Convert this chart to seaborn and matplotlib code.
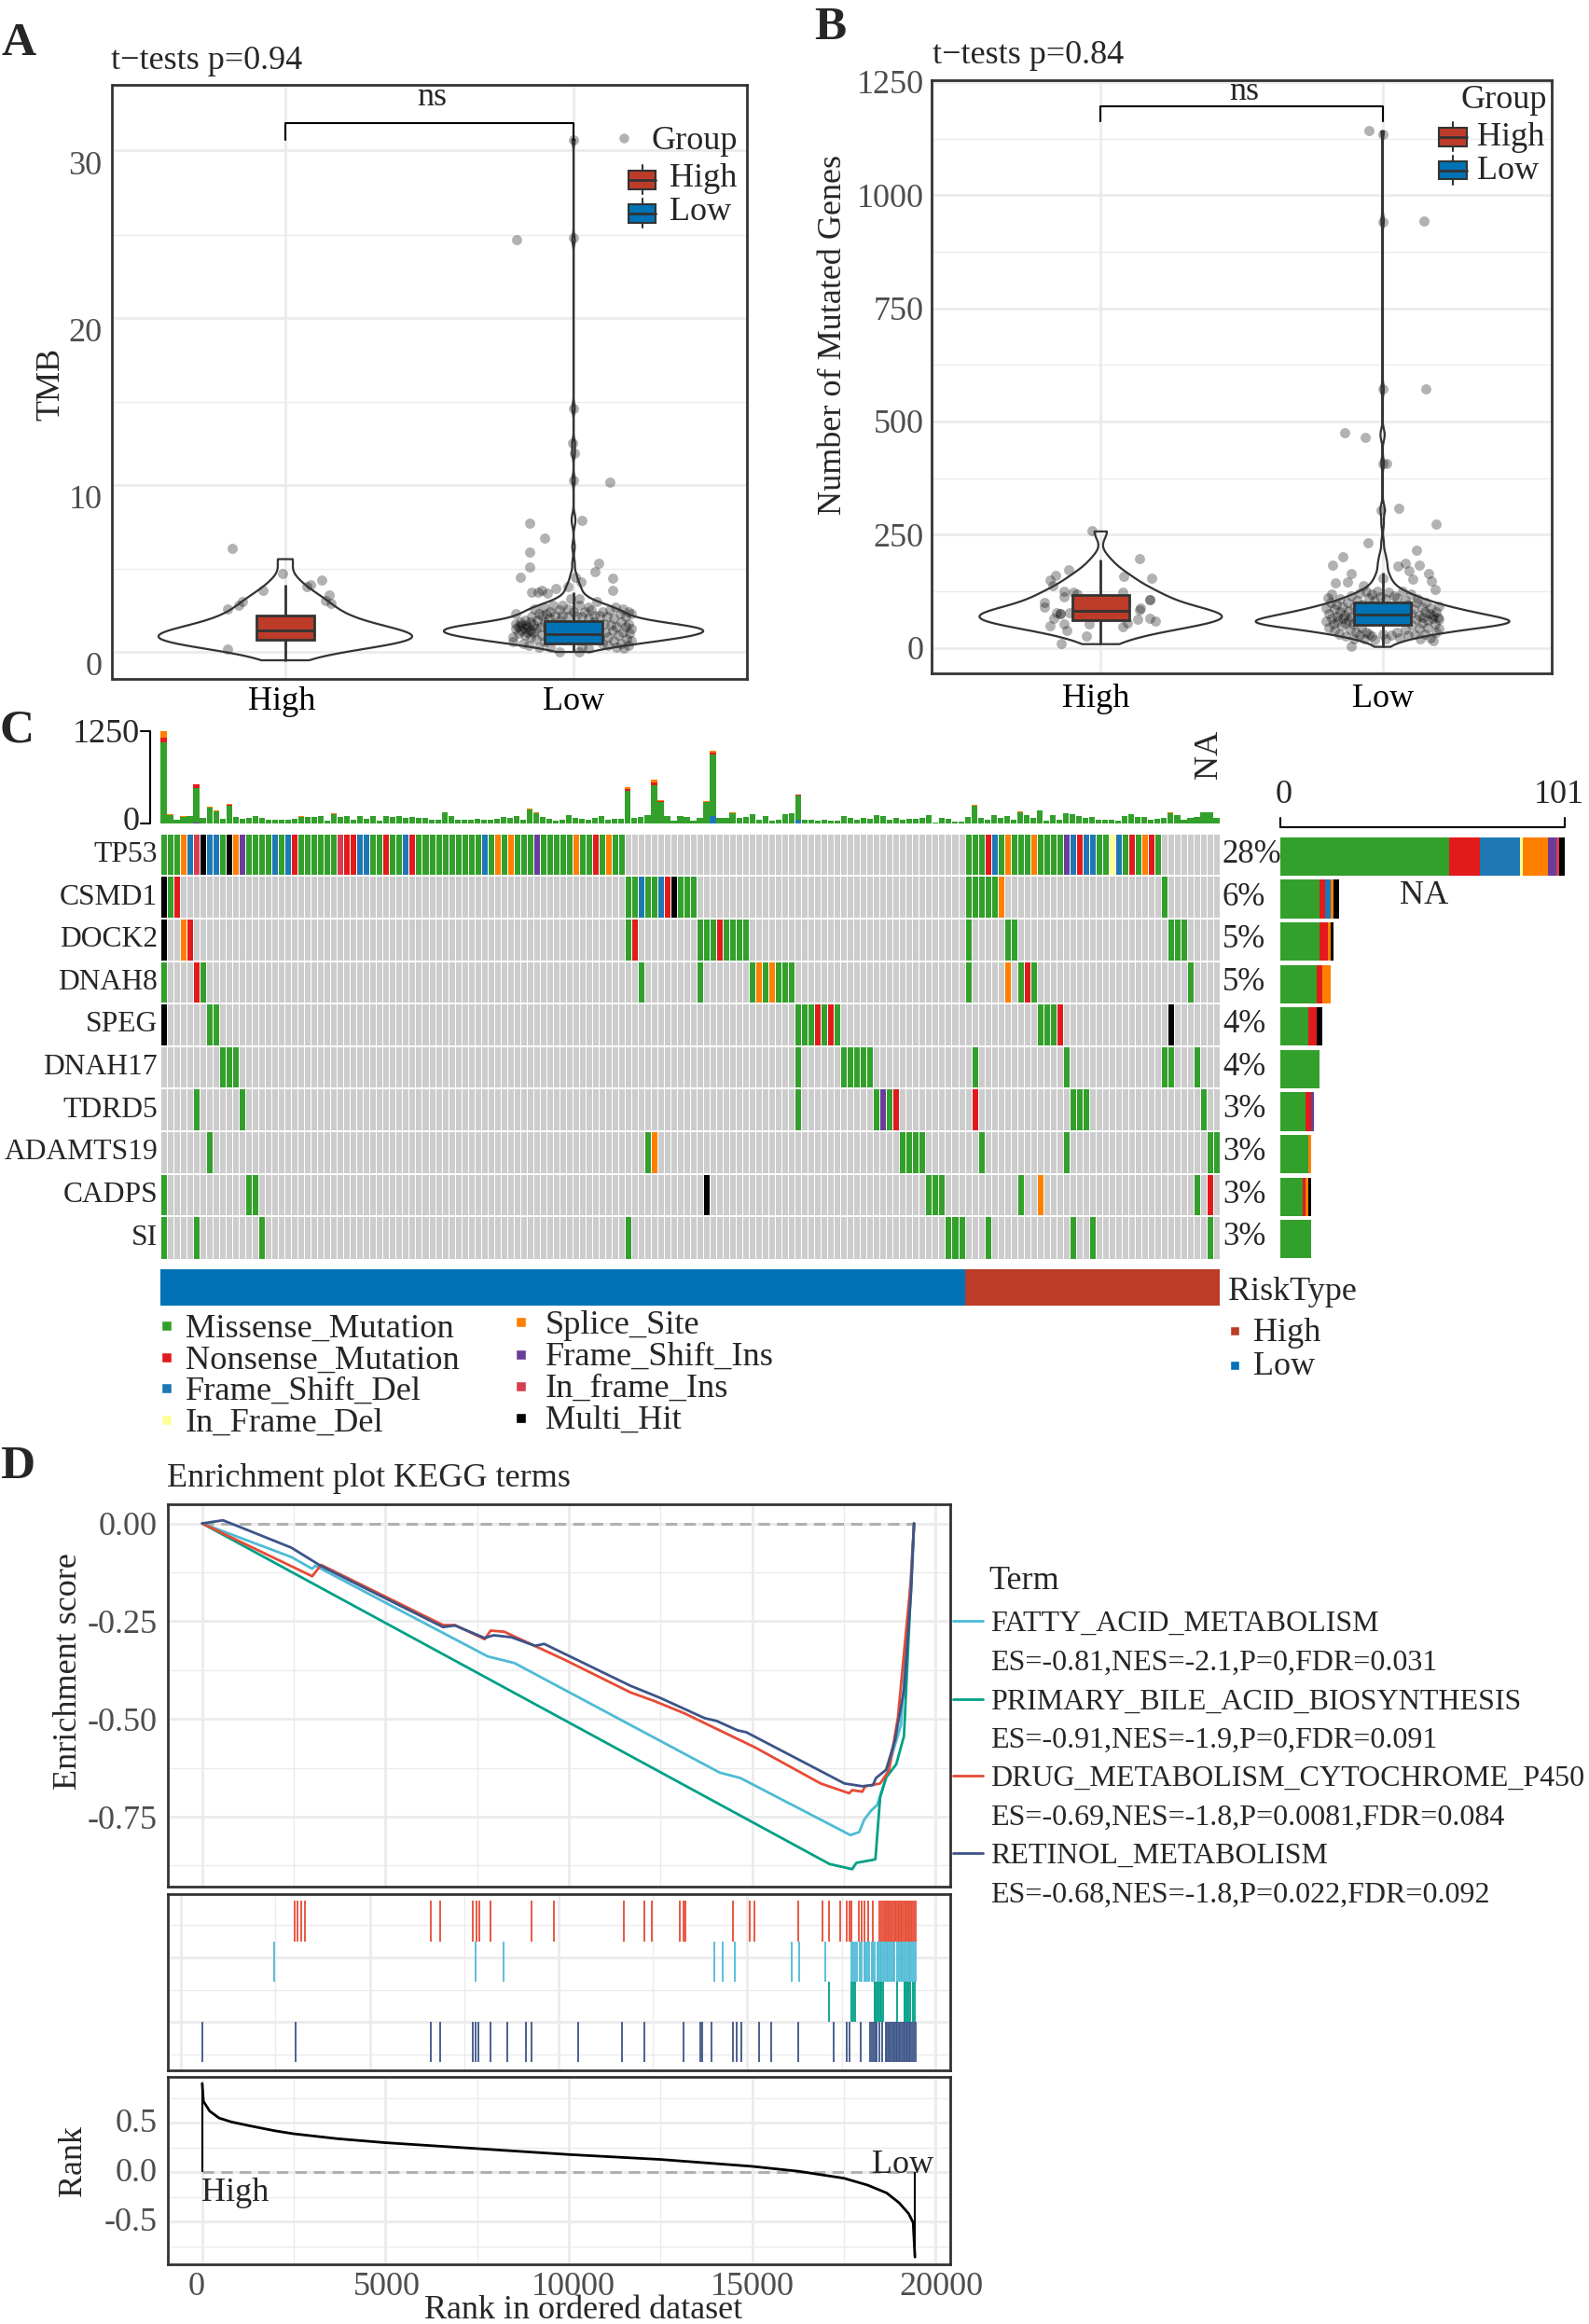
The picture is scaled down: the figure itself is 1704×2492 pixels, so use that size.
import numpy as np
import pandas as pd
import matplotlib
matplotlib.use("Agg")
import matplotlib.pyplot as plt
from matplotlib.colors import ListedColormap
from matplotlib.lines import Line2D
from matplotlib.patches import Rectangle
from matplotlib.transforms import ScaledTranslation
import seaborn as sns

W, H = 1704, 2492
HIGH_COL = "#BC3C29"
LOW_COL = "#0072B5"
GRID = "#EBEBEB"
DARK = "#333333"
TICK_GREY = "#4D4D4D"
FS = 26

# ---- panel A / B ----
a_box_high = [0.16, 1.44, 2.0, 2.87, 4.74]
a_box_low = [0.7, 1.19, 1.79, 2.52, 4.28]
b_box_high = [8, 61, 81, 116, 195]
b_box_low = [1, 50, 73, 101, 167]

a_high_vals = [0.2, 0.8, 1.2, 1.6, 2.0, 2.4, 2.8, 3.2, 3.6, 4.0, 4.5, 5.0, 6.26]
a_high_counts = [1, 2, 6, 8, 5, 3, 3, 2, 2, 2, 1, 1, 1]
a_low_vals = [0.7, 1.0, 1.3, 1.6, 1.9, 2.2, 2.5, 2.8, 3.1, 3.4, 3.7, 4.0, 4.4, 4.8, 5.3, 6.0, 7.0,
              8.4, 8.8, 11.0, 12.6, 13.2, 15.3, 25.4, 31.4]
a_low_counts = [4, 14, 28, 42, 50, 48, 28, 20, 18, 15, 8, 5, 4, 3, 2, 1, 1,
                1, 1, 1, 1, 1, 1, 1, 1]
b_high_vals = [8, 25, 40, 55, 70, 85, 100, 115, 130, 145, 160, 175, 195, 257]
b_high_counts = [1, 2, 4, 7, 9, 6, 4, 4, 3, 2, 2, 1, 1, 1]
b_low_vals = [2, 20, 35, 50, 60, 75, 90, 105, 120, 135, 150, 165, 185, 205, 232, 274, 300, 310,
              408, 465, 476, 571, 943, 1141]
b_low_counts = [3, 12, 30, 45, 55, 45, 30, 20, 12, 6, 4, 3, 3, 2, 1, 1, 1, 1,
                1, 1, 1, 1, 1, 1]

a_high_pts = [(-.184, 6.9), (.126, 5.0), (.088, 4.7), (.074, 4.6), (.153, 4.1), (-.079, 4.4), (-.149, 3.7),
              (-.163, 3.5), (-.2, 3.3), (.158, 3.6), (.14, 3.8), (-.2, .85), (-.01, 5.4)]
a_low_pts = [(0, 31.4), (0, 25.5), (-.196, 25.4), (0, 15.3), (-.005, 13.2), (.004, 12.6), (0, 11.0), (.125, 10.9),
             (-.151, 8.4), (.028, 8.6), (-.102, 7.5), (-.152, 6.7), (-.152, 5.8), (.088, 6.0), (-.186, 5.2), (.074, 5.5),
             (.135, 5.1), (.005, 5.2), (-.018, 4.6), (.026, 4.9), (.135, 4.4), (-.061, 4.5), (-.146, 4.3), (-.123, 4.3),
             (-.11, 4.4),
             (-.21, 1.6), (-.2, 2.1), (-.2, 2.4), (-.21, 1.3), (-.2, 3.0), (-.19, 2.2), (-.19, 1.8), (-.185, 2.5),
             (-.18, 2.0), (-.18, 2.3), (-.175, 1.2), (-.17, 2.1), (-.17, 1.7), (-.17, 2.6), (-.165, 2.35), (-.16, 1.9),
             (-.16, 2.2), (-.155, 1.1), (-.15, 2.5), (-.15, 2.0), (-.15, 1.6), (-.145, 2.8), (-.14, 2.3), (-.14, 1.9),
             (-.135, 3.3), (-.13, 2.1), (-.13, 1.5), (-.125, 2.6), (-.12, 1.0), (-.12, 3.0), (-.115, 2.2), (-.11, 1.7),
             (-.11, 2.9), (-.105, 3.4), (-.1, 2.5), (-.1, 1.3), (-.095, 3.0), (-.09, 2.1), (-.09, 4.2), (-.085, 2.7),
             (-.08, 3.1), (-.08, 1.0), (-.075, 2.4), (-.07, 3.5), (-.07, 1.7), (-.065, 2.9), (-.05, .7), (-.05, 3.2),
             (-.05, 2.6), (-.04, 2.9), (-.04, 3.5), (-.03, 2.1), (-.02, 3.3), (-.02, 2.8), (-.01, 3.9), (0, 3.1),
             (.01, 2.9), (.02, .72), (.02, 3.5), (.02, 3.9), (.03, 2.85), (.03, 1.0), (.04, 3.1), (.05, 3.4), (.05, 2.7),
             (.05, .9), (.06, 3.2), (.07, 2.5), (.07, 2.9), (.08, 2.1), (.08, 3.7), (.09, 1.5), (.09, 2.9), (.1, 3.1),
             (.1, 1.2), (.105, 2.4), (.11, 1.9), (.115, 2.8), (.12, 1.1), (.12, 1.6), (.125, 3.2), (.13, 2.3), (.135, 2.0),
             (.14, 1.4), (.14, 2.7), (.145, 3.4), (.15, 1.0), (.15, 2.2), (.155, 1.7), (.16, 3.0), (.165, 2.5), (.165, 1.2),
             (.17, 1.9), (.17, 3.3), (.175, .9), (.18, 2.2), (.18, 2.8), (.185, 1.5), (.19, 1.1), (.19, 2.4), (.19, 3.1),
             (.195, 1.8), (.2, 2.1), (.2, 1.4), (.2, 3.0)]
b_high_pts = [(-.03, 258), (.137, 196), (-.115, 172), (.18, 153), (.08, 158), (-.16, 159), (-.18, 149), (-.17, 138),
              (.077, 123), (-.13, 125), (-.097, 123), (-.085, 118), (-.13, 113), (-.2, 101), (-.2, 90), (.175, 106),
              (.175, 106), (.14, 88), (.137, 83), (-.157, 78), (-.142, 75), (-.166, 65), (-.142, 75), (-.11, 78),
              (-.04, 53), (.13, 63), (.173, 65), (.193, 59), (.095, 55), (.077, 46), (-.13, 53), (-.18, 48), (-.12, 38),
              (-.052, 26), (-.139, 10)]
b_low_pts = [(-.047, 1142), (0, 1135), (.148, 943), (0, 941), (.155, 571), (0, 571), (-.133, 476), (-.061, 465), (.016, 408),
             (0, 408), (.058, 308), (-.004, 305), (.19, 274), (-.052, 233), (-.142, 201), (.119, 215), (-.177, 183), (.081, 187),
             (.054, 181), (.13, 183), (.094, 171), (.162, 165), (.173, 148), (-.112, 163), (-.166, 143), (-.126, 145),
             (-.067, 138), (0, 153), (.108, 151), (.186, 128), (-.11, 3),
             (-.2, 88), (-.2, 58), (-.195, 110), (-.19, 45), (-.19, 75), (-.185, 100), (-.18, 65), (-.18, 118), (-.175, 52),
             (-.17, 85), (-.17, 38), (-.165, 95), (-.16, 70), (-.16, 58), (-.155, 30), (-.15, 80), (-.15, 108), (-.145, 48),
             (-.14, 65), (-.14, 90), (-.135, 72), (-.13, 55), (-.13, 25), (-.125, 100), (-.12, 60), (-.12, 82), (-.115, 40),
             (-.11, 70), (-.11, 115), (-.105, 52), (-.1, 90), (-.1, 20), (-.095, 35), (-.09, 105), (-.085, 62), (-.08, 120),
             (-.08, 28), (-.075, 45), (-.07, 95), (-.065, 20), (-.06, 125), (-.06, 35), (-.05, 30), (-.05, 110), (-.04, 118),
             (-.04, 25), (-.03, 105), (-.03, 18), (-.02, 125), (-.01, 112), (0, 30), (.01, 108), (.01, 20), (.02, 122),
             (.03, 28), (.04, 115), (.05, 35), (.05, 110), (.06, 22), (.07, 125), (.08, 40), (.08, 104), (.09, 95), (.09, 28),
             (.1, 75), (.1, 118), (.105, 50), (.11, 85), (.115, 30), (.12, 62), (.12, 100), (.125, 108), (.13, 72), (.13, 42),
             (.135, 20), (.14, 90), (.14, 55), (.145, 68), (.15, 30), (.15, 80), (.155, 100), (.16, 60), (.16, 45), (.165, 75),
             (.17, 22), (.17, 88), (.175, 65), (.18, 72), (.18, 15), (.185, 52), (.19, 80), (.19, 35), (.195, 68), (.2, 42),
             (.2, 62), (.2, 92)]

# ---- panel C ----
genes = ["TP53", "CSMD1", "DOCK2", "DNAH8", "SPEG", "DNAH17", "TDRD5", "ADAMTS19", "CADPS", "SI"]
gene_pct = ["28%", "6%", "5%", "5%", "4%", "4%", "3%", "3%", "3%", "3%"]
mut_names = ["Missense_Mutation", "Nonsense_Mutation", "Frame_Shift_Del", "In_Frame_Del",
             "Splice_Site", "Frame_Shift_Ins", "In_frame_Ins", "Multi_Hit"]
mut_letters = "MNDYSIFH"
mut_colors = ["#33A02C", "#E31A1C", "#1F78B4", "#FFFF99", "#FF7F00", "#6A3D9A", "#D53E4F", "#000000"]
N_SAMPLES = 162
N_LOW = 123
gene_mutations = [
    [(0, "MMMSDFHDDMHSIMMMMDMDNMMMMMMFNNDDMMNMMDNMMMMMMMMMMDMSMSMMMIMMMMMSMMNMSMM"),
     (123, "MMMNDMSMMMSMMMMIDNDDMMYDMNMSNM")],
    [(0, "HMN"), (71, "MMDMMDNHMMM"), (123, "MMMMMS"), (153, "M")],
    [(0, "H"), (3, "SN"), (71, "MN"), (82, "MMMNMMMM"), (123, "M"), (129, "MM"), (154, "MMM")],
    [(0, "M"), (5, "NM"), (73, "M"), (82, "M"), (90, "MSMSMMM"), (123, "M"), (129, "S"), (131, "MNM"), (157, "M")],
    [(0, "H"), (7, "MM"), (97, "MMMNMNM"), (134, "MMMN"), (154, "H")],
    [(9, "MMM"), (97, "M"), (104, "MMMMM"), (124, "M"), (138, "M"), (153, "MM"), (158, "M")],
    [(5, "M"), (12, "M"), (97, "M"), (109, "MIMN"), (124, "N"), (139, "MMM"), (159, "M")],
    [(7, "M"), (74, "MS"), (113, "MMMM"), (125, "M"), (138, "M"), (160, "MM")],
    [(0, "M"), (13, "MM"), (83, "H"), (117, "MMM"), (131, "M"), (134, "S"), (158, "M"), (160, "N")],
    [(0, "M"), (5, "M"), (15, "M"), (71, "M"), (120, "MMM"), (126, "M"), (139, "M"), (142, "M"), (160, "M")],
]
top_total = [1250, 125, 50, 100, 110, 530, 80, 235, 180, 70, 270, 95, 70, 85, 110, 85, 60, 60, 60, 60,
             70, 105, 95, 95, 105, 40, 145, 95, 105, 50, 100, 70, 110, 40, 100, 95, 110, 85, 95, 85,
             85, 50, 60, 160, 110, 55, 55, 55, 70, 60, 55, 70, 90, 80, 100, 60, 205, 150, 90, 70,
             45, 55, 120, 85, 65, 60, 85, 110, 55, 70, 65, 495, 80, 95, 115, 590, 315, 100, 40, 110,
             95, 40, 80, 310, 980, 80, 85, 155, 75, 95, 130, 60, 100, 45, 60, 135, 140, 400, 50, 60,
             40, 60, 40, 40, 110, 80, 50, 75, 70, 120, 110, 60, 85, 60, 65, 65, 85, 115, 20, 75,
             65, 30, 25, 90, 260, 75, 60, 120, 80, 105, 50, 170, 115, 85, 185, 45, 120, 60, 145, 125,
             100, 80, 95, 50, 60, 55, 45, 110, 130, 90, 95, 50, 65, 80, 155, 115, 55, 80, 90, 150,
             150, 85]
top_red = {0: 60, 5: 50, 7: 5, 10: 15, 26: 5, 71: 15, 75: 35, 76: 15, 83: 12, 84: 30, 97: 12, 124: 10}
top_orange = {0: 85, 1: 8, 3: 6, 4: 6, 7: 10, 8: 8, 10: 8, 14: 6, 21: 6, 26: 8, 32: 6, 43: 5, 56: 8, 57: 6, 62: 6,
              71: 30, 75: 30, 76: 12, 83: 10, 84: 15, 87: 8, 97: 8, 104: 6, 109: 6, 124: 12, 131: 10, 134: 6, 154: 10}
top_blue = {5: 5, 84: 100, 97: 60}
top_purple = {5: 15, 84: 10}
side_counts = {
    "Missense_Mutation": [60, 14, 14, 13, 10, 14, 9, 10, 8, 11],
    "Nonsense_Mutation": [11, 2, 3, 2, 3, 0, 2, 0, 1, 0],
    "Frame_Shift_Del": [14, 2, 0, 0, 0, 0, 0, 0, 0, 0],
    "In_Frame_Del": [1, 0, 0, 0, 0, 0, 0, 0, 0, 0],
    "Splice_Site": [9, 1, 1, 3, 0, 0, 0, 1, 1, 0],
    "Frame_Shift_Ins": [3, 0, 0, 0, 0, 0, 1, 0, 0, 0],
    "In_frame_Ins": [1, 0, 0, 0, 0, 0, 0, 0, 0, 0],
    "Multi_Hit": [2, 2, 1, 0, 2, 0, 0, 0, 1, 0],
}

# ---- panel D ----
terms = ["FATTY_ACID_METABOLISM", "PRIMARY_BILE_ACID_BIOSYNTHESIS", "DRUG_METABOLISM_CYTOCHROME_P450", "RETINOL_METABOLISM"]
term_stats = ["ES=-0.81,NES=-2.1,P=0,FDR=0.031", "ES=-0.91,NES=-1.9,P=0,FDR=0.091",
              "ES=-0.69,NES=-1.8,P=0.0081,FDR=0.084", "ES=-0.68,NES=-1.8,P=0.022,FDR=0.092"]
term_colors = ["#4DBBD5", "#00A087", "#E64B35", "#3C5488"]
fatty_rank = [0, 2433, 3001, 3082, 7786, 8516, 14111, 14679, 17680, 17923, 18053, 18248, 18410, 18653, 18815, 19059, 19302, 19415]
fatty_es = [0, -.086, -.116, -.108, -.340, -.357, -.637, -.651, -.797, -.789, -.758, -.734, -.720, -.650, -.592, -.515, -.174, 0]
bile_rank = [0, 17112, 17728, 17842, 18361, 18491, 18653, 18929, 19140, 19302, 19415]
bile_es = [0, -.871, -.884, -.868, -.859, -.700, -.650, -.616, -.544, -.223, 0]
drug_rank = [0, 3001, 3244, 6569, 6894, 7705, 7867, 8240, 9894, 11678, 12327, 13138, 15085, 16869, 17647, 17728, 18004, 18085,
             18491, 18734, 18977, 19221, 19334, 19415]
drug_es = [0, -.135, -.106, -.260, -.260, -.296, -.274, -.277, -.349, -.432, -.454, -.485, -.573, -.665, -.690, -.682, -.686,
           -.672, -.665, -.631, -.495, -.252, -.145, 0]
retinol_rank = [0, 568, 973, 2433, 3244, 4217, 6569, 6894, 7705, 7948, 8434, 9083, 9327, 11678, 12489, 13706, 14030, 14598, 14841,
                17518, 18004, 18296, 18377, 18653, 18896, 19140, 19334, 19415]
retinol_es = [0, .008, -.007, -.062, -.109, -.155, -.265, -.261, -.293, -.286, -.291, -.313, -.308, -.415, -.446, -.498, -.505,
              -.529, -.534, -.665, -.672, -.669, -.651, -.630, -.554, -.427, -.174, 0]
drug_hits = [2519, 2604, 2689, 2808, 6229, 6485, 7387, 7489, 7557, 7863, 8987, 9600, 11506, 12067, 12254, 13020, 13122, 13173,
             14467, 14944, 15063, 16254, 16918, 17105, 17394, 17581, 17650, 17718, 17922, 17990, 18058, 18160, 18279, 18466,
             18517, 18568, 18610, 18650, 18690, 18730, 18770, 18810, 18850, 18890, 18930, 18970, 19010, 19050, 19090, 19130,
             19170, 19210, 19250, 19290, 19330, 19370, 19410, 19450]
fatty_hits = [1957, 7455, 8221, 13973, 14195, 14518, 16067, 16271, 17003, 17701, 17752, 17803, 17870, 17940, 17990, 18060, 18100,
              18150, 18200, 18260, 18300, 18350, 18410, 18450, 18490, 18530, 18570, 18620, 18660, 18700, 18760, 18800, 18840,
              18880, 18950, 19010, 19050, 19090, 19140, 19180, 19240, 19280, 19320, 19360, 19400, 19450]
bile_hits = [17088, 17701, 17769, 17820, 18331, 18370, 18410, 18450, 18490, 18530, 18568, 18943, 19148, 19190, 19230, 19270,
             19318, 19386, 19437]
retinol_hits = [0, 2536, 6229, 6485, 7387, 7455, 7523, 7863, 8323, 8834, 8987, 10246, 11437, 12067, 13139, 13582, 13633, 13888,
                14467, 14569, 14706, 15199, 15523, 16254, 17224, 17581, 17666, 17956, 18211, 18260, 18310, 18360, 18400, 18460,
                18534, 18636, 18680, 18720, 18760, 18800, 18840, 18880, 18920, 18960, 19000, 19040, 19080, 19120, 19160, 19200,
                19240, 19280, 19320, 19360, 19400, 19454]
rank_x = [0, 34, 204, 460, 800, 1310, 1990, 2500, 3700, 5000, 7500, 10000, 12500, 15000, 16270, 17500, 18150, 18670, 19010, 19270, 19390, 19440]
rank_y = [.90, .72, .62, .55, .51, .47, .42, .39, .34, .30, .24, .18, .13, .06, .01, -.06, -.13, -.21, -.31, -.42, -.51, -.86]


def add_ax(left, top, right, bottom):
    return fig.add_axes([left / W, 1 - bottom / H, (right - left) / W, (bottom - top) / H])


def px_text(x, y, s, **kw):
    kw.setdefault("fontsize", FS)
    kw.setdefault("va", "center")
    # text boxes sit a little off the visual centre
    if kw.get("rotation"):
        x += 4
    else:
        y += 3
    return fig.text(x / W, 1 - y / H, s, **kw)


def px_line(xs, ys, **kw):
    kw.setdefault("color", "black")
    kw.setdefault("lw", 1.5)
    fig.add_artist(Line2D([x / W for x in xs], [1 - y / H for y in ys], transform=fig.transFigure, **kw))


def px_rect(x0, y0, x1, y1, color, **kw):
    fig.add_artist(Rectangle((x0 / W, 1 - y1 / H), (x1 - x0) / W, (y1 - y0) / H, transform=fig.transFigure,
                             facecolor=color, **kw))


def nudge(label, dx, dy):
    # shift a tick label by pixels, the reference has them slightly off their ticks
    label.set_transform(label.get_transform() + ScaledTranslation(dx / 100, dy / 100, fig.dpi_scale_trans))


def bw_frame(ax, h_major=(), h_minor=(), v_major=(), v_minor=()):
    for v in h_minor:
        ax.axhline(v, color=GRID, lw=1.0, zorder=0)
    for v in h_major:
        ax.axhline(v, color=GRID, lw=2.0, zorder=0)
    for v in v_minor:
        ax.axvline(v, color=GRID, lw=1.0, zorder=0)
    for v in v_major:
        ax.axvline(v, color=GRID, lw=2.0, zorder=0)
    for sp in ax.spines.values():
        sp.set_visible(True)
        sp.set_color(DARK)
        sp.set_linewidth(2.0)
    ax.tick_params(axis="both", colors=DARK, width=1.5, length=5, labelsize=FS, pad=3)
    ax.set_xlabel("")
    ax.set_ylabel("")


def violin_panel(ax, vals, counts, box, pts, pos, col, bw, width):
    sample = np.repeat(vals, counts)
    sns.violinplot(x=np.full(len(sample), pos), y=sample, native_scale=True, fill=False, color=DARK, saturation=1,
                   cut=0, inner=None, density_norm="width", width=width, bw_method=bw, gridsize=900, linewidth=1.6,
                   ax=ax, zorder=2)
    px, py = zip(*pts)
    sns.scatterplot(x=np.array(px) + pos, y=py, color="black", alpha=0.3, s=62, linewidth=0, ax=ax, zorder=1.5, legend=False)
    sns.boxplot(x=np.full(len(box), pos), y=box, native_scale=True, color=col, saturation=1, width=0.2, showfliers=False,
                showcaps=False, linecolor=DARK, linewidth=2.0, ax=ax, zorder=3)


def box_key(x0, x1, y0, y1, w0, w1, col):
    xc = (x0 + x1) / 2
    px_line([xc, xc], [w0, w1], color=DARK, lw=1.5)
    px_rect(x0, y0, x1, y1, col, edgecolor=DARK, linewidth=1.5, zorder=3)
    px_line([x0, x1], [(y0 + y1) / 2] * 2, color=DARK, lw=2, zorder=4)


sns.set_theme(style="white")
plt.rcParams["font.family"] = ["Liberation Serif", "DejaVu Serif"]
fig = plt.figure(figsize=(W / 100, H / 100), dpi=100, facecolor="white")

# panel A
ax = add_ax(120.5, 90.6, 800.5, 728)
bw_frame(ax, [0.7, 10.7, 20.7, 30.75], [5.7, 15.7, 25.7], [0, 1])
violin_panel(ax, a_high_vals, a_high_counts, a_box_high, a_high_pts, 0, HIGH_COL, 0.42, 0.88)
violin_panel(ax, a_low_vals, a_low_counts, a_box_low, a_low_pts, 1, LOW_COL, 0.1, 0.9)
ax.plot([0, 0, 1, 1], [31.4, 32.4, 32.4, 31.4], color="black", lw=1.5)
ax.text(0.51, 33.95, "ns", ha="center", va="center", fontsize=FS)
ax.set_xlim(-0.6, 1.6)
ax.set_ylim(-0.917, 34.7)
ax.set_xticks([0, 1], ["High", "Low"])
ax.set_yticks([0, 10, 20, 30])
ax.tick_params(axis="y", labelcolor=TICK_GREY)
ax.tick_params(axis="x", labelcolor="black", pad=1)
nudge(ax.get_xticklabels()[0], -4, 0)
ax.set_xlabel("")
ax.set_ylabel("")
px_text(51, 412, "TMB", rotation=90, ha="center")
px_text(119, 62, "t\u2212tests p=0.94")
px_text(1, 44, "A", fontsize=37, fontweight="bold")
fig.add_artist(Line2D([669 / W], [1 - 148 / H], marker="o", ms=7.5, color="black", alpha=0.3, mew=0, transform=fig.transFigure))
px_text(698, 149, "Group")
box_key(674, 703, 183, 203, 177, 208, HIGH_COL)
px_text(718, 188, "High")
box_key(674, 703, 219, 238.5, 213, 244, LOW_COL)
px_text(718, 224, "Low")

# panel B
ax = add_ax(999, 86, 1664, 722)
bw_frame(ax, [0, 250, 500, 750, 1000, 1250], [125, 375, 625, 875, 1125], [0, 1])
violin_panel(ax, b_high_vals, b_high_counts, b_box_high, b_high_pts, 0, HIGH_COL, 0.35, 0.86)
violin_panel(ax, b_low_vals, b_low_counts, b_box_low, b_low_pts, 1, LOW_COL, 0.11, 0.9)
ax.plot([0, 0, 1, 1], [1163, 1197, 1197, 1163], color="black", lw=1.5)
ax.text(0.51, 1228, "ns", ha="center", va="center", fontsize=FS)
ax.set_xlim(-0.6, 1.6)
ax.set_ylim(-56.5, 1254)
ax.set_xticks([0, 1], ["High", "Low"])
ax.set_yticks([0, 250, 500, 750, 1000, 1250])
ax.tick_params(axis="y", labelcolor=TICK_GREY, pad=1)
ax.tick_params(axis="x", labelcolor="black")
nudge(ax.get_xticklabels()[0], -5, 0)
ax.set_xlabel("")
ax.set_ylabel("")
px_text(889, 359, "Number of Mutated Genes", rotation=90, ha="center")
px_text(1000, 57, "t\u2212tests p=0.84")
px_text(873, 27, "B", fontsize=37, fontweight="bold")
px_text(1566, 104, "Group")
box_key(1543, 1573, 137, 157, 131, 162, HIGH_COL)
px_text(1584, 144, "High")
box_key(1543, 1573, 173, 192, 167, 198, LOW_COL)
px_text(1584, 181, "Low")

# panel C top bars
rows = []
for col in range(N_SAMPLES):
    red = top_red.get(col, 0)
    orange = top_orange.get(col, 0)
    blue = top_blue.get(col, 0)
    purple = top_purple.get(col, 0)
    green = top_total[col] - red - orange - blue - purple
    # bottom of the stack first, as in the picture
    for name, n in [("Frame_Shift_Ins", purple), ("Frame_Shift_Del", blue), ("Missense_Mutation", green),
                    ("Nonsense_Mutation", red), ("Splice_Site", orange)]:
        rows.append((col, name, n))
top_df = pd.DataFrame(rows, columns=["col", "type", "n"])
palette = dict(zip(mut_names, mut_colors))
ax = add_ax(172, 784, 1308, 883.4)
sns.histplot(top_df, x="col", weights="n", hue="type", hue_order=["Splice_Site", "Nonsense_Mutation", "Missense_Mutation",
             "Frame_Shift_Del", "Frame_Shift_Ins"], palette=palette, multiple="stack", discrete=True, shrink=0.88,
             alpha=1, linewidth=0, legend=False, ax=ax)
ax.set_xlim(-0.5, N_SAMPLES - 0.5)
ax.set_ylim(0, 1250)
ax.axis("off")
px_line([151, 161, 161, 151], [784, 784, 883.4, 883.4], color="black", lw=1.5)
px_text(150, 784, "1250", ha="right")
px_text(150, 879, "0", ha="right")
px_text(1292, 809, "NA", rotation=90, ha="center")
px_text(0, 781, "C", fontsize=37, fontweight="bold")

# panel C oncoplot
mut_matrix = np.zeros((len(genes), N_SAMPLES), dtype=int)
for g, segments in enumerate(gene_mutations):
    for start, letters in segments:
        for k, ch in enumerate(letters):
            mut_matrix[g, start + k] = mut_letters.index(ch) + 1
ax = add_ax(172, 893.6, 1308, 1350)
sns.heatmap(mut_matrix, cmap=ListedColormap(["#CCCCCC"] + mut_colors), vmin=-0.5, vmax=8.5, cbar=False, linewidths=0.5,
            linecolor="white", xticklabels=False, yticklabels=genes, ax=ax)
ax.hlines(range(1, len(genes)), 0, N_SAMPLES, color="white", lw=1.4)
ax.tick_params(axis="y", length=0, pad=2, labelsize=22.8, rotation=0)
for i, pct in enumerate(gene_pct):
    px_text(1311, 893.6 + 45.6 * (i + 0.5) - 3, pct, fontsize=25)

# panel C side bars
side_rows = [(i, name, side_counts[name][i]) for name in mut_names for i in range(len(genes))]
side_df = pd.DataFrame(side_rows, columns=["gene", "type", "n"])
ax = add_ax(1373, 895.6, 1678, 1351.6)
sns.histplot(side_df, y="gene", weights="n", hue="type", hue_order=mut_names[::-1], palette=palette, multiple="stack",
             discrete=True, shrink=0.9, alpha=1, linewidth=0, legend=False, ax=ax)
ax.set_xlim(0, 101)
ax.set_ylim(9.5, -0.5)
ax.axis("off")
px_line([1373, 1373, 1678, 1678], [876.6, 887.3, 887.3, 876.6], color="black", lw=1.5)
px_text(1377, 850, "0", ha="center")
px_text(1672, 850, "101", ha="center")
px_text(1527, 958, "NA", ha="center")

# risk annotation bar
risk_row = np.array([[1] * N_LOW + [0] * (N_SAMPLES - N_LOW)])
ax = add_ax(172, 1361, 1308, 1399.6)
sns.heatmap(risk_row, cmap=ListedColormap([HIGH_COL, LOW_COL]), cbar=False, xticklabels=False, yticklabels=False, ax=ax)

# panel C legends
legend_rows = [(173, 199, 1421, 1422), (173, 199, 1455, 1456), (173, 199, 1488, 1489), (173, 199, 1522, 1523),
               (553, 585, 1417.5, 1418), (553, 585, 1452, 1452), (553, 585, 1486, 1486), (553, 585, 1520, 1520)]
for (mx, tx, my, ty), name, c in zip(legend_rows, mut_names, mut_colors):
    px_rect(mx, my - 5.5, mx + 11, my + 5.5, c)
    px_text(tx, ty, name, fontsize=26.2)
px_text(1317, 1382, "RiskType")
px_rect(1319, 1422, 1329, 1432, HIGH_COL)
px_text(1344, 1427, "High")
px_rect(1319, 1459, 1329, 1469, LOW_COL)
px_text(1344, 1462, "Low")

# panel D running score
XLIM = (-949, 20402)
V_MAJOR = [0, 5000, 10000, 15000, 20000]
V_MINOR = [2500, 7500, 12500, 17500]
px_text(0, 1570, "D", fontsize=37, fontweight="bold")
px_text(178.6, 1582, "Enrichment plot KEGG terms")
ax = add_ax(179.5, 1612.6, 1019, 2022.7)
bw_frame(ax, [0, -.25, -.5, -.75], [-.125, -.375, -.625, -.875], V_MAJOR, V_MINOR)
ax.plot([0, 19415], [0, 0], color="#B0B0B0", lw=2.2, ls=(0, (4, 2.5)), zorder=1)
for rk, es, c in [(fatty_rank, fatty_es, term_colors[0]), (bile_rank, bile_es, term_colors[1]),
                  (drug_rank, drug_es, term_colors[2]), (retinol_rank, retinol_es, term_colors[3])]:
    sns.lineplot(x=rk, y=es, color=c, lw=2.0, sort=False, estimator=None, ax=ax)
ax.set_xlim(*XLIM)
ax.set_ylim(-.928, .05)
ax.set_xticks([])
ax.set_yticks([0, -.25, -.5, -.75], ["0.00", "-0.25", "-0.50", "-0.75"])
ax.tick_params(axis="y", labelcolor=TICK_GREY)
px_text(70, 1792, "Enrichment score", rotation=90, ha="center")

# panel D hit ticks
ax = add_ax(179.5, 2030.7, 1019, 2220)
bw_frame(ax, [2.6, 1.0], [3.4, 1.79, .19], [-580, 4570, 9730, 14870, 20000], [1989, 7150, 12300, 17440])
for hits, lane, c in [(drug_hits, 3, term_colors[2]), (fatty_hits, 2, term_colors[0]), (bile_hits, 1, term_colors[1]),
                      (retinol_hits, 0, term_colors[3])]:
    ax.vlines(hits, lane, lane + 1, color=c, lw=1.3)
ax.set_xlim(*XLIM)
ax.set_ylim(-.2, 4.18)
ax.set_xticks([])
ax.set_yticks([])

# panel D ranked metric
ax = add_ax(179.5, 2226.7, 1019, 2427.7)
bw_frame(ax, [.5, 0, -.5], [.75, .25, -.25, -.75], V_MAJOR, V_MINOR)
ax.plot([0, 19440], [0, 0], color="#B0B0B0", lw=2.2, ls=(0, (4, 2.5)), zorder=1)
sns.lineplot(x=rank_x, y=rank_y, color="black", lw=2.0, sort=False, estimator=None, ax=ax)
ax.vlines([0], 0, .9, color="black", lw=1.5)
ax.vlines([19440], -.86, 0, color="black", lw=1.5)
ax.set_xlim(*XLIM)
ax.set_ylim(-.93, .97)
ax.set_xticks(V_MAJOR)
ax.set_yticks([.5, 0, -.5], ["0.5", "0.0", "-0.5"])
ax.tick_params(axis="both", labelcolor=TICK_GREY)
for lab, dx in zip(ax.get_xticklabels(), [-6, 1, 5, 0, 6]):
    nudge(lab, dx, 3)
for lab in ax.get_yticklabels():
    nudge(lab, 0, 3)
px_text(216, 2349, "High")
px_text(1001, 2319, "Low", ha="right")
px_text(74, 2317, "Rank", rotation=90, ha="center")
px_text(626, 2474, "Rank in ordered dataset", ha="center")

# panel D legend
px_text(1060.6, 1693, "Term")
legend_ys = [1738, 1780, 1822, 1863, 1904, 1946, 1987, 2029]
for i, term in enumerate(terms):
    y0 = legend_ys[2 * i]
    y1 = legend_ys[2 * i + 1]
    px_line([1022, 1054], [y0, y0], color=term_colors[i], lw=2.0)
    px_text(1062, y0, term, fontsize=23)
    px_text(1062, y1, term_stats[i], fontsize=23)

fig.savefig("out.png", dpi=100)
